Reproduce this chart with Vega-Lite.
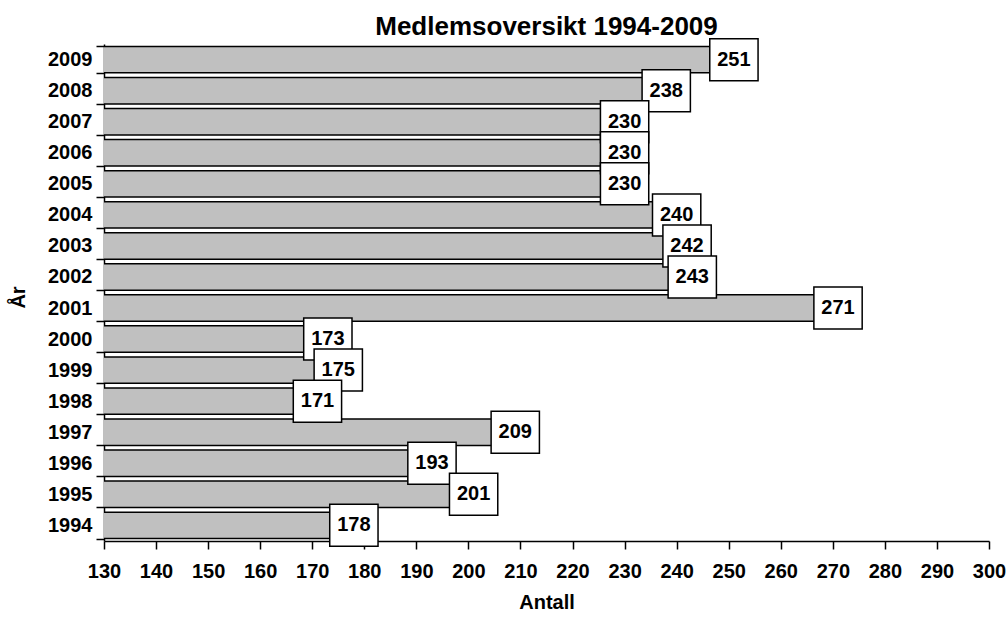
{
  "$schema": "https://vega.github.io/schema/vega-lite/v6.json",
  "width": 885,
  "height": 497,
  "autosize": {"type": "none"},
  "padding": {"left": 104, "top": 44, "right": 17, "bottom": 79},
  "background": "white",
  "title": {"text": "Medlemsoversikt 1994-2009", "fontSize": 26, "font": "Liberation Sans", "fontWeight": "bold", "anchor": "middle", "offset": 7, "color": "black", "baseline": "alphabetic", "dy": 34},
  "config": {"view": {"stroke": null}, "font": "Liberation Sans"},
  "data": {"values": [
    {"year": "2009", "count": 251},
    {"year": "2008", "count": 238},
    {"year": "2007", "count": 230},
    {"year": "2006", "count": 230},
    {"year": "2005", "count": 230},
    {"year": "2004", "count": 240},
    {"year": "2003", "count": 242},
    {"year": "2002", "count": 243},
    {"year": "2001", "count": 271},
    {"year": "2000", "count": 173},
    {"year": "1999", "count": 175},
    {"year": "1998", "count": 171},
    {"year": "1997", "count": 209},
    {"year": "1996", "count": 193},
    {"year": "1995", "count": 201},
    {"year": "1994", "count": 178}
  ]},
  "encoding": {
    "y": {
      "field": "year", "type": "ordinal", "sort": "descending",
      "scale": {"paddingInner": 0.15, "paddingOuter": 0.08},
      "title": "År",
      "axis": {
        "tickBand": "extent", "tickSize": 8, "tickColor": "black", "tickWidth": 1.5,
        "domainColor": "black", "domainWidth": 1.5,
        "labelFontSize": 20, "labelFontWeight": "bold", "labelColor": "black", "labelPadding": 4,
        "titleFontSize": 20, "titleFontWeight": "bold", "titleColor": "black",
        "titleAngle": -90, "titleX": -80, "titleY": 253, "titleBaseline": "alphabetic", "titleAlign": "center"
      }
    },
    "x": {
      "field": "count", "type": "quantitative",
      "scale": {"domain": [130, 300], "nice": false, "zero": false},
      "title": "Antall",
      "axis": {
        "values": [130, 140, 150, 160, 170, 180, 190, 200, 210, 220, 230, 240, 250, 260, 270, 280, 290, 300],
        "grid": false, "tickSize": 8, "tickColor": "black", "tickWidth": 1.5,
        "domainColor": "black", "domainWidth": 1.5,
        "labelFontSize": 20, "labelFontWeight": "bold", "labelColor": "black", "labelPadding": 12, "labelFlush": false,
        "titleFontSize": 20, "titleFontWeight": "bold", "titleColor": "black",
        "titleY": 61, "titleBaseline": "middle"
      }
    }
  },
  "layer": [
    {"mark": {"type": "bar", "fill": "#c0c0c0", "stroke": "black", "strokeWidth": 1.5, "clip": true}},
    {"mark": {"type": "point", "shape": "M-1.15,-1H1.15V1H-1.15Z", "size": 1764, "filled": true, "fill": "white", "stroke": "black", "strokeWidth": 1.5, "opacity": 1}},
    {"mark": {"type": "text", "fontSize": 20, "fontWeight": "bold", "color": "black"}, "encoding": {"text": {"field": "count", "type": "quantitative"}}}
  ]
}
